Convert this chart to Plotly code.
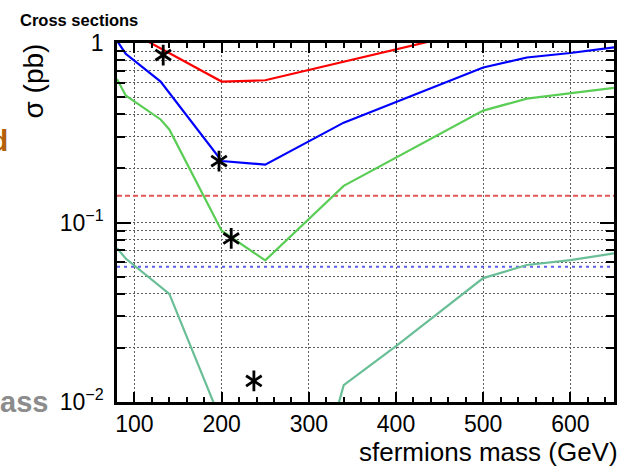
import plotly.graph_objects as go

# Cross-section curves vs sfermion mass (GeV -> pb)
mass_red = [100, 200, 250, 500]
xsec_red = [1.12, 0.61, 0.62, 1.2]

mass_blue = [80, 90, 130, 200, 250, 340, 500, 550, 600, 650]
xsec_blue = [1.03, 0.87, 0.61, 0.22, 0.21, 0.36, 0.73, 0.83, 0.88, 0.945]

mass_green = [80, 90, 130, 140, 200, 250, 340, 500, 550, 600, 650]
xsec_green = [0.63, 0.51, 0.375, 0.33, 0.09, 0.0615, 0.16, 0.42, 0.49, 0.527, 0.563]

mass_teal = [80, 90, 140, 200, 330, 340, 400, 500, 550, 600, 650]
xsec_teal = [0.072, 0.063, 0.040, 0.0077, 0.0083, 0.0124, 0.0205, 0.049, 0.058, 0.0617, 0.0673]

# Horizontal limits
limit_red = 0.141
limit_blue = 0.0567

# Benchmark points
star_mass = [133, 197, 211, 237]
star_xsec = [0.857, 0.22, 0.0815, 0.0131]

x_range = [80, 650]
x_ticks = [100, 200, 300, 400, 500, 600]
y_ticks = [0.01, 0.1, 1]
y_ticktext = ["10<sup>\u22122</sup>", "10<sup>\u22121</sup>", "1"]
y_minor = [m * 10.0 ** e for e in (-2, -1) for m in range(2, 10)]

FONT = "Liberation Sans, Arial, Helvetica, sans-serif"
GRID = "#5e5e5e"

fig = go.Figure()

fig.add_trace(go.Scatter(x=x_range, y=[limit_red] * 2, mode="lines",
                         line=dict(color="rgb(225,85,85)", width=2, dash="5px,3px")))
fig.add_trace(go.Scatter(x=x_range, y=[limit_blue] * 2, mode="lines",
                         line=dict(color="rgb(95,95,235)", width=2.2, dash="3px,4px")))

fig.add_trace(go.Scatter(x=mass_teal, y=xsec_teal, mode="lines",
                         line=dict(color="rgb(105,190,150)", width=2.2)))
fig.add_trace(go.Scatter(x=mass_green, y=xsec_green, mode="lines",
                         line=dict(color="rgb(90,205,85)", width=2.2)))
fig.add_trace(go.Scatter(x=mass_blue, y=xsec_blue, mode="lines",
                         line=dict(color="rgb(0,0,255)", width=2.2)))
fig.add_trace(go.Scatter(x=mass_red, y=xsec_red, mode="lines",
                         line=dict(color="rgb(255,0,0)", width=2.2)))

# six-armed asterisks built from two overlapping Y symbols
for sym in ("y-up", "y-down"):
    fig.add_trace(go.Scatter(x=star_mass, y=star_xsec, mode="markers",
                             marker=dict(symbol=sym, size=13, color="black",
                                         line=dict(color="black", width=2.8))))

fig.update_layout(
    width=625, height=470,
    margin=dict(l=117, r=8, t=43, b=68),
    plot_bgcolor="white", paper_bgcolor="white",
    showlegend=False,
    font=dict(family=FONT, color="black"),
)

fig.update_xaxes(
    range=x_range, tickvals=x_ticks, ticks="inside", ticklen=10, tickwidth=2,
    tickcolor="black", showline=True, linewidth=2.5, linecolor="black",
    mirror="ticks", zeroline=False,
    showgrid=True, gridcolor=GRID, gridwidth=1, griddash="2px,2px",
    tickfont=dict(size=23, family=FONT),
    minor=dict(dtick=20, tick0=0, ticks="inside", ticklen=5, tickwidth=1.5,
               tickcolor="black", showgrid=False),
)

fig.update_yaxes(
    type="log", range=[-2, 0], tickmode="array", tickvals=y_ticks,
    ticktext=y_ticktext, ticks="inside", ticklen=14, tickwidth=2,
    tickcolor="black", showline=True, linewidth=2.5, linecolor="black",
    mirror="ticks", zeroline=False, ticklabelstandoff=6,
    showgrid=True, gridcolor=GRID, gridwidth=1, griddash="2px,2px",
    tickfont=dict(size=23, family=FONT),
    minor=dict(tickmode="array", tickvals=y_minor, ticks="inside", ticklen=8,
               tickwidth=1.5, tickcolor="black", showgrid=True,
               gridcolor=GRID, gridwidth=1, griddash="2px,2px"),
)

annotations = [
    dict(text="<b>Cross sections</b>", x=(17 - 117) / 500, y=(402 - 20) / 359,
         xanchor="left", yanchor="middle", font=dict(size=16.5, family=FONT)),
    dict(text="\u03c3 (pb)", x=(33 - 117) / 500, y=(402 - 81) / 359,
         xanchor="center", yanchor="middle", textangle=-90,
         font=dict(size=28, family=FONT)),
    dict(text="sfermions mass (GeV)", x=(623 - 117) / 500, y=(402 - 452) / 359,
         xanchor="right", yanchor="middle", font=dict(size=26, family=FONT)),
    dict(text="<b>d</b>", x=(9 - 117) / 500, y=(402 - 140) / 359,
         xanchor="right", yanchor="middle",
         font=dict(size=30, family=FONT, color="rgb(180,95,10)")),
    dict(text="<b>ass</b>", x=(50 - 117) / 500, y=(402 - 402) / 359,
         xanchor="right", yanchor="middle",
         font=dict(size=29, family=FONT, color="rgb(140,140,140)")),
]
for a in annotations:
    a.update(xref="paper", yref="paper", showarrow=False)
fig.update_layout(annotations=annotations)

fig.write_html("out.html")
